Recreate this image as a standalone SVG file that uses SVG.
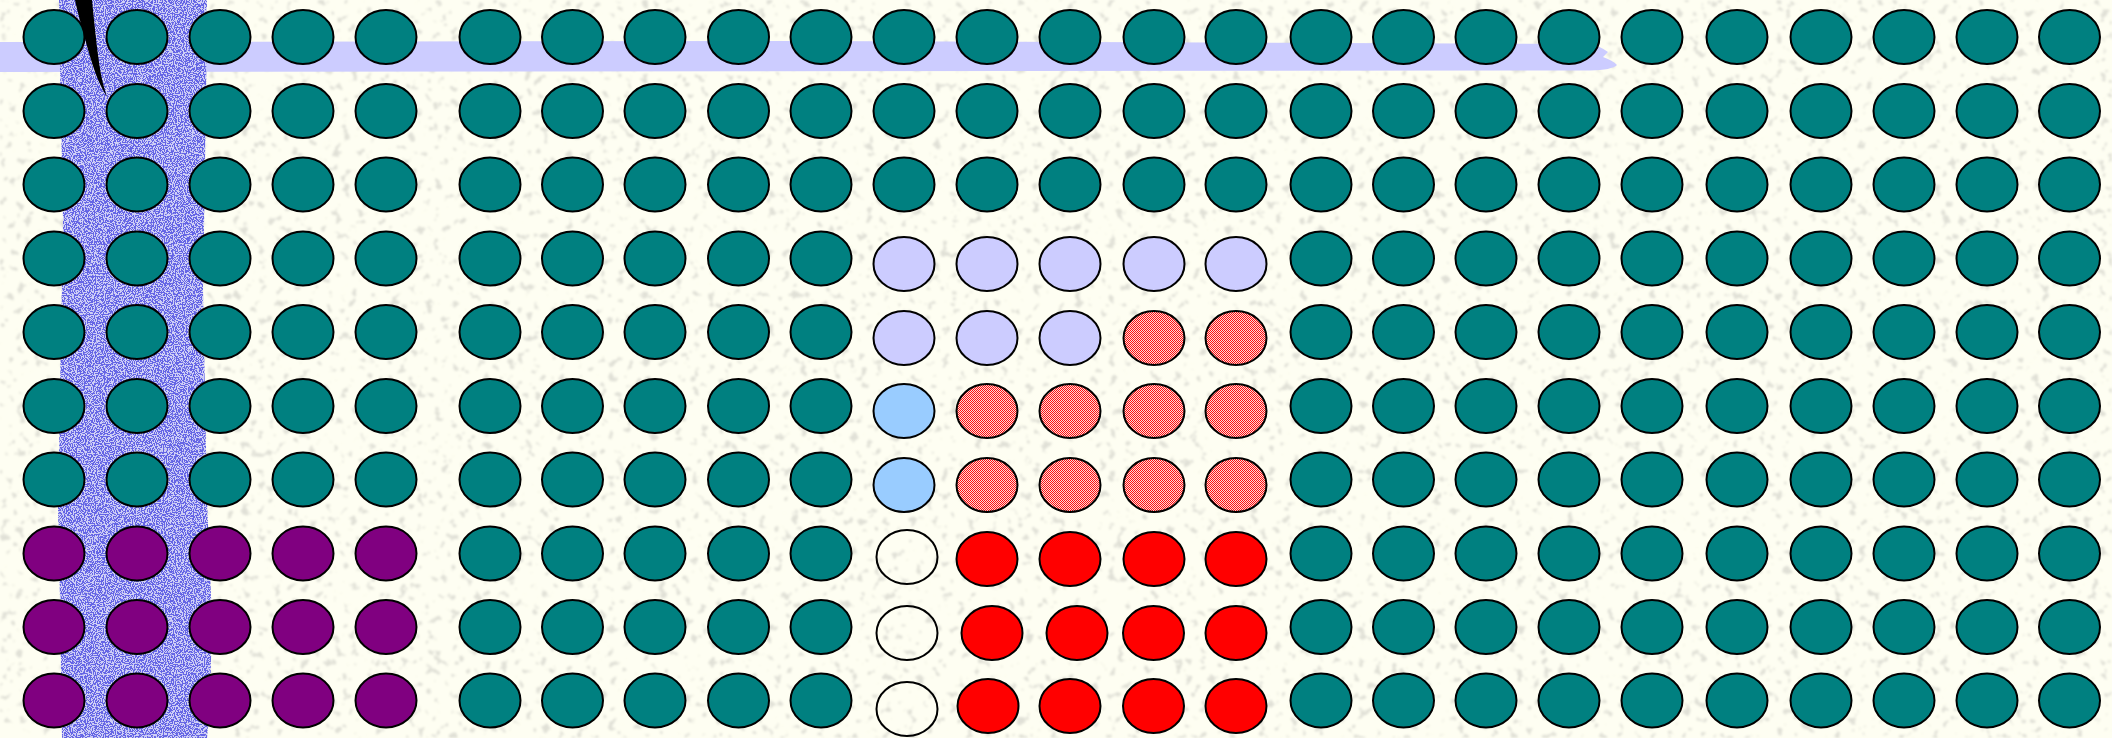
<svg xmlns="http://www.w3.org/2000/svg" width="2112" height="738" viewBox="0 0 2112 738">
<defs>
<style>
ellipse{stroke:#000;stroke-width:2}
.t{fill:#008080}.p{fill:#800080}.l{fill:#CCCCFF}.b{fill:#99CCFF}.h{fill:url(#hatch)}.r{fill:#FF0000}.w{fill:none}
</style>
<pattern id="hatch" width="2" height="2" patternUnits="userSpaceOnUse">
<rect width="2" height="2" fill="#FFD8D8"/>
<rect width="1" height="1" fill="#FF1010"/>
<rect x="1" y="1" width="1" height="1" fill="#FF1010"/>
</pattern>
<filter id="specks" x="0" y="0" width="100%" height="100%">
<feTurbulence type="fractalNoise" baseFrequency="0.12" numOctaves="2" seed="7" result="n"/>
<feColorMatrix in="n" type="matrix" values="0 0 0 0 0.5  0 0 0 0 0.5  0 0 0 0 0.47  10 0 0 0 -6.1" result="s"/>
<feComponentTransfer in="s" result="s2"><feFuncA type="linear" slope="0.5"/></feComponentTransfer>
<feGaussianBlur in="s2" stdDeviation="0.9" result="sb"/>
<feMerge><feMergeNode in="SourceGraphic"/><feMergeNode in="sb"/></feMerge>
</filter>
<filter id="bluenoise" x="0" y="0" width="100%" height="100%">
<feTurbulence type="fractalNoise" baseFrequency="0.9" numOctaves="1" seed="3" result="n"/>
<feColorMatrix in="n" type="matrix" values="0 0 0 0 0.13  0 0 0 0 0.13  0 0 0 0 0.78  24 0 0 0 -11.2" result="bn"/>
<feComposite in="bn" in2="SourceAlpha" operator="in" result="bc"/>
<feMerge><feMergeNode in="SourceGraphic"/><feMergeNode in="bc"/></feMerge>
</filter>
</defs>
<g id="background">
<rect width="2112" height="738" fill="#FEFEF2" filter="url(#specks)"/>
</g>
<g id="bands">
<path id="hband" d="M0,42 L800,41 L1590,44 Q1600,46 1608,52 L1603,57 Q1612,60 1617,65 Q1612,70 1590,70.5 L0,72 Z" fill="#CCCCFF"/>
<path id="vband" d="M59,0 L207,0 L206,100 L203,290 L207,500 L212,620 L210,700 L207,738 L62,738 L60,600 L58,510 L63,220 L60,70 Z" fill="#CFCFF6" filter="url(#bluenoise)"/>
<path id="quill" d="M75,0 L92,0 C94,20 96,40 98,55 C100,70 102,82 107,97 C101,87 97,78 93,66 C89,54 86,42 83,32 C80,20 77,10 75,0 Z" fill="#000"/>
</g>
<g id="nodes">
<g id="e-r1-c1"><ellipse class="t" cx="54" cy="37" rx="30.5" ry="27"/></g>
<g id="e-r1-c2"><ellipse class="t" cx="137" cy="37" rx="30.5" ry="27"/></g>
<g id="e-r1-c3"><ellipse class="t" cx="220" cy="37" rx="30.5" ry="27"/></g>
<g id="e-r1-c4"><ellipse class="t" cx="303" cy="37" rx="30.5" ry="27"/></g>
<g id="e-r1-c5"><ellipse class="t" cx="386" cy="37" rx="30.5" ry="27"/></g>
<g id="e-r1-c6"><ellipse class="t" cx="490" cy="37" rx="30.5" ry="27"/></g>
<g id="e-r1-c7"><ellipse class="t" cx="572.5" cy="37" rx="30.5" ry="27"/></g>
<g id="e-r1-c8"><ellipse class="t" cx="655" cy="37" rx="30.5" ry="27"/></g>
<g id="e-r1-c9"><ellipse class="t" cx="738.5" cy="37" rx="30.5" ry="27"/></g>
<g id="e-r1-c10"><ellipse class="t" cx="821" cy="37" rx="30.5" ry="27"/></g>
<g id="e-r1-c11"><ellipse class="t" cx="904" cy="37" rx="30.5" ry="27"/></g>
<g id="e-r1-c12"><ellipse class="t" cx="987" cy="37" rx="30.5" ry="27"/></g>
<g id="e-r1-c13"><ellipse class="t" cx="1070" cy="37" rx="30.5" ry="27"/></g>
<g id="e-r1-c14"><ellipse class="t" cx="1154" cy="37" rx="30.5" ry="27"/></g>
<g id="e-r1-c15"><ellipse class="t" cx="1236" cy="37" rx="30.5" ry="27"/></g>
<g id="e-r1-c16"><ellipse class="t" cx="1321" cy="37" rx="30.5" ry="27"/></g>
<g id="e-r1-c17"><ellipse class="t" cx="1403.5" cy="37" rx="30.5" ry="27"/></g>
<g id="e-r1-c18"><ellipse class="t" cx="1486" cy="37" rx="30.5" ry="27"/></g>
<g id="e-r1-c19"><ellipse class="t" cx="1569" cy="37" rx="30.5" ry="27"/></g>
<g id="e-r1-c20"><ellipse class="t" cx="1652" cy="37" rx="30.5" ry="27"/></g>
<g id="e-r1-c21"><ellipse class="t" cx="1737" cy="37" rx="30.5" ry="27"/></g>
<g id="e-r1-c22"><ellipse class="t" cx="1821" cy="37" rx="30.5" ry="27"/></g>
<g id="e-r1-c23"><ellipse class="t" cx="1904" cy="37" rx="30.5" ry="27"/></g>
<g id="e-r1-c24"><ellipse class="t" cx="1987" cy="37" rx="30.5" ry="27"/></g>
<g id="e-r1-c25"><ellipse class="t" cx="2069.5" cy="37" rx="30.5" ry="27"/></g>

<g id="e-r2-c1"><ellipse class="t" cx="54" cy="111" rx="30.5" ry="27"/></g>
<g id="e-r2-c2"><ellipse class="t" cx="137" cy="111" rx="30.5" ry="27"/></g>
<g id="e-r2-c3"><ellipse class="t" cx="220" cy="111" rx="30.5" ry="27"/></g>
<g id="e-r2-c4"><ellipse class="t" cx="303" cy="111" rx="30.5" ry="27"/></g>
<g id="e-r2-c5"><ellipse class="t" cx="386" cy="111" rx="30.5" ry="27"/></g>
<g id="e-r2-c6"><ellipse class="t" cx="490" cy="111" rx="30.5" ry="27"/></g>
<g id="e-r2-c7"><ellipse class="t" cx="572.5" cy="111" rx="30.5" ry="27"/></g>
<g id="e-r2-c8"><ellipse class="t" cx="655" cy="111" rx="30.5" ry="27"/></g>
<g id="e-r2-c9"><ellipse class="t" cx="738.5" cy="111" rx="30.5" ry="27"/></g>
<g id="e-r2-c10"><ellipse class="t" cx="821" cy="111" rx="30.5" ry="27"/></g>
<g id="e-r2-c11"><ellipse class="t" cx="904" cy="111" rx="30.5" ry="27"/></g>
<g id="e-r2-c12"><ellipse class="t" cx="987" cy="111" rx="30.5" ry="27"/></g>
<g id="e-r2-c13"><ellipse class="t" cx="1070" cy="111" rx="30.5" ry="27"/></g>
<g id="e-r2-c14"><ellipse class="t" cx="1154" cy="111" rx="30.5" ry="27"/></g>
<g id="e-r2-c15"><ellipse class="t" cx="1236" cy="111" rx="30.5" ry="27"/></g>
<g id="e-r2-c16"><ellipse class="t" cx="1321" cy="111" rx="30.5" ry="27"/></g>
<g id="e-r2-c17"><ellipse class="t" cx="1403.5" cy="111" rx="30.5" ry="27"/></g>
<g id="e-r2-c18"><ellipse class="t" cx="1486" cy="111" rx="30.5" ry="27"/></g>
<g id="e-r2-c19"><ellipse class="t" cx="1569" cy="111" rx="30.5" ry="27"/></g>
<g id="e-r2-c20"><ellipse class="t" cx="1652" cy="111" rx="30.5" ry="27"/></g>
<g id="e-r2-c21"><ellipse class="t" cx="1737" cy="111" rx="30.5" ry="27"/></g>
<g id="e-r2-c22"><ellipse class="t" cx="1821" cy="111" rx="30.5" ry="27"/></g>
<g id="e-r2-c23"><ellipse class="t" cx="1904" cy="111" rx="30.5" ry="27"/></g>
<g id="e-r2-c24"><ellipse class="t" cx="1987" cy="111" rx="30.5" ry="27"/></g>
<g id="e-r2-c25"><ellipse class="t" cx="2069.5" cy="111" rx="30.5" ry="27"/></g>

<g id="e-r3-c1"><ellipse class="t" cx="54" cy="184.5" rx="30.5" ry="27"/></g>
<g id="e-r3-c2"><ellipse class="t" cx="137" cy="184.5" rx="30.5" ry="27"/></g>
<g id="e-r3-c3"><ellipse class="t" cx="220" cy="184.5" rx="30.5" ry="27"/></g>
<g id="e-r3-c4"><ellipse class="t" cx="303" cy="184.5" rx="30.5" ry="27"/></g>
<g id="e-r3-c5"><ellipse class="t" cx="386" cy="184.5" rx="30.5" ry="27"/></g>
<g id="e-r3-c6"><ellipse class="t" cx="490" cy="184.5" rx="30.5" ry="27"/></g>
<g id="e-r3-c7"><ellipse class="t" cx="572.5" cy="184.5" rx="30.5" ry="27"/></g>
<g id="e-r3-c8"><ellipse class="t" cx="655" cy="184.5" rx="30.5" ry="27"/></g>
<g id="e-r3-c9"><ellipse class="t" cx="738.5" cy="184.5" rx="30.5" ry="27"/></g>
<g id="e-r3-c10"><ellipse class="t" cx="821" cy="184.5" rx="30.5" ry="27"/></g>
<g id="e-r3-c11"><ellipse class="t" cx="904" cy="184.5" rx="30.5" ry="27"/></g>
<g id="e-r3-c12"><ellipse class="t" cx="987" cy="184.5" rx="30.5" ry="27"/></g>
<g id="e-r3-c13"><ellipse class="t" cx="1070" cy="184.5" rx="30.5" ry="27"/></g>
<g id="e-r3-c14"><ellipse class="t" cx="1154" cy="184.5" rx="30.5" ry="27"/></g>
<g id="e-r3-c15"><ellipse class="t" cx="1236" cy="184.5" rx="30.5" ry="27"/></g>
<g id="e-r3-c16"><ellipse class="t" cx="1321" cy="184.5" rx="30.5" ry="27"/></g>
<g id="e-r3-c17"><ellipse class="t" cx="1403.5" cy="184.5" rx="30.5" ry="27"/></g>
<g id="e-r3-c18"><ellipse class="t" cx="1486" cy="184.5" rx="30.5" ry="27"/></g>
<g id="e-r3-c19"><ellipse class="t" cx="1569" cy="184.5" rx="30.5" ry="27"/></g>
<g id="e-r3-c20"><ellipse class="t" cx="1652" cy="184.5" rx="30.5" ry="27"/></g>
<g id="e-r3-c21"><ellipse class="t" cx="1737" cy="184.5" rx="30.5" ry="27"/></g>
<g id="e-r3-c22"><ellipse class="t" cx="1821" cy="184.5" rx="30.5" ry="27"/></g>
<g id="e-r3-c23"><ellipse class="t" cx="1904" cy="184.5" rx="30.5" ry="27"/></g>
<g id="e-r3-c24"><ellipse class="t" cx="1987" cy="184.5" rx="30.5" ry="27"/></g>
<g id="e-r3-c25"><ellipse class="t" cx="2069.5" cy="184.5" rx="30.5" ry="27"/></g>

<g id="e-r4-c1"><ellipse class="t" cx="54" cy="258.5" rx="30.5" ry="27"/></g>
<g id="e-r4-c2"><ellipse class="t" cx="137" cy="258.5" rx="30.5" ry="27"/></g>
<g id="e-r4-c3"><ellipse class="t" cx="220" cy="258.5" rx="30.5" ry="27"/></g>
<g id="e-r4-c4"><ellipse class="t" cx="303" cy="258.5" rx="30.5" ry="27"/></g>
<g id="e-r4-c5"><ellipse class="t" cx="386" cy="258.5" rx="30.5" ry="27"/></g>
<g id="e-r4-c6"><ellipse class="t" cx="490" cy="258.5" rx="30.5" ry="27"/></g>
<g id="e-r4-c7"><ellipse class="t" cx="572.5" cy="258.5" rx="30.5" ry="27"/></g>
<g id="e-r4-c8"><ellipse class="t" cx="655" cy="258.5" rx="30.5" ry="27"/></g>
<g id="e-r4-c9"><ellipse class="t" cx="738.5" cy="258.5" rx="30.5" ry="27"/></g>
<g id="e-r4-c10"><ellipse class="t" cx="821" cy="258.5" rx="30.5" ry="27"/></g>
<g id="e-r4-c11"><ellipse class="l" cx="904" cy="264" rx="30.5" ry="27"/></g>
<g id="e-r4-c12"><ellipse class="l" cx="987" cy="264" rx="30.5" ry="27"/></g>
<g id="e-r4-c13"><ellipse class="l" cx="1070" cy="264" rx="30.5" ry="27"/></g>
<g id="e-r4-c14"><ellipse class="l" cx="1154" cy="264" rx="30.5" ry="27"/></g>
<g id="e-r4-c15"><ellipse class="l" cx="1236" cy="264" rx="30.5" ry="27"/></g>
<g id="e-r4-c16"><ellipse class="t" cx="1321" cy="258.5" rx="30.5" ry="27"/></g>
<g id="e-r4-c17"><ellipse class="t" cx="1403.5" cy="258.5" rx="30.5" ry="27"/></g>
<g id="e-r4-c18"><ellipse class="t" cx="1486" cy="258.5" rx="30.5" ry="27"/></g>
<g id="e-r4-c19"><ellipse class="t" cx="1569" cy="258.5" rx="30.5" ry="27"/></g>
<g id="e-r4-c20"><ellipse class="t" cx="1652" cy="258.5" rx="30.5" ry="27"/></g>
<g id="e-r4-c21"><ellipse class="t" cx="1737" cy="258.5" rx="30.5" ry="27"/></g>
<g id="e-r4-c22"><ellipse class="t" cx="1821" cy="258.5" rx="30.5" ry="27"/></g>
<g id="e-r4-c23"><ellipse class="t" cx="1904" cy="258.5" rx="30.5" ry="27"/></g>
<g id="e-r4-c24"><ellipse class="t" cx="1987" cy="258.5" rx="30.5" ry="27"/></g>
<g id="e-r4-c25"><ellipse class="t" cx="2069.5" cy="258.5" rx="30.5" ry="27"/></g>

<g id="e-r5-c1"><ellipse class="t" cx="54" cy="332" rx="30.5" ry="27"/></g>
<g id="e-r5-c2"><ellipse class="t" cx="137" cy="332" rx="30.5" ry="27"/></g>
<g id="e-r5-c3"><ellipse class="t" cx="220" cy="332" rx="30.5" ry="27"/></g>
<g id="e-r5-c4"><ellipse class="t" cx="303" cy="332" rx="30.5" ry="27"/></g>
<g id="e-r5-c5"><ellipse class="t" cx="386" cy="332" rx="30.5" ry="27"/></g>
<g id="e-r5-c6"><ellipse class="t" cx="490" cy="332" rx="30.5" ry="27"/></g>
<g id="e-r5-c7"><ellipse class="t" cx="572.5" cy="332" rx="30.5" ry="27"/></g>
<g id="e-r5-c8"><ellipse class="t" cx="655" cy="332" rx="30.5" ry="27"/></g>
<g id="e-r5-c9"><ellipse class="t" cx="738.5" cy="332" rx="30.5" ry="27"/></g>
<g id="e-r5-c10"><ellipse class="t" cx="821" cy="332" rx="30.5" ry="27"/></g>
<g id="e-r5-c11"><ellipse class="l" cx="904" cy="338" rx="30.5" ry="27"/></g>
<g id="e-r5-c12"><ellipse class="l" cx="987" cy="338" rx="30.5" ry="27"/></g>
<g id="e-r5-c13"><ellipse class="l" cx="1070" cy="338" rx="30.5" ry="27"/></g>
<g id="e-r5-c14"><ellipse class="h" cx="1154" cy="338" rx="30.5" ry="27"/></g>
<g id="e-r5-c15"><ellipse class="h" cx="1236" cy="338" rx="30.5" ry="27"/></g>
<g id="e-r5-c16"><ellipse class="t" cx="1321" cy="332" rx="30.5" ry="27"/></g>
<g id="e-r5-c17"><ellipse class="t" cx="1403.5" cy="332" rx="30.5" ry="27"/></g>
<g id="e-r5-c18"><ellipse class="t" cx="1486" cy="332" rx="30.5" ry="27"/></g>
<g id="e-r5-c19"><ellipse class="t" cx="1569" cy="332" rx="30.5" ry="27"/></g>
<g id="e-r5-c20"><ellipse class="t" cx="1652" cy="332" rx="30.5" ry="27"/></g>
<g id="e-r5-c21"><ellipse class="t" cx="1737" cy="332" rx="30.5" ry="27"/></g>
<g id="e-r5-c22"><ellipse class="t" cx="1821" cy="332" rx="30.5" ry="27"/></g>
<g id="e-r5-c23"><ellipse class="t" cx="1904" cy="332" rx="30.5" ry="27"/></g>
<g id="e-r5-c24"><ellipse class="t" cx="1987" cy="332" rx="30.5" ry="27"/></g>
<g id="e-r5-c25"><ellipse class="t" cx="2069.5" cy="332" rx="30.5" ry="27"/></g>

<g id="e-r6-c1"><ellipse class="t" cx="54" cy="406" rx="30.5" ry="27"/></g>
<g id="e-r6-c2"><ellipse class="t" cx="137" cy="406" rx="30.5" ry="27"/></g>
<g id="e-r6-c3"><ellipse class="t" cx="220" cy="406" rx="30.5" ry="27"/></g>
<g id="e-r6-c4"><ellipse class="t" cx="303" cy="406" rx="30.5" ry="27"/></g>
<g id="e-r6-c5"><ellipse class="t" cx="386" cy="406" rx="30.5" ry="27"/></g>
<g id="e-r6-c6"><ellipse class="t" cx="490" cy="406" rx="30.5" ry="27"/></g>
<g id="e-r6-c7"><ellipse class="t" cx="572.5" cy="406" rx="30.5" ry="27"/></g>
<g id="e-r6-c8"><ellipse class="t" cx="655" cy="406" rx="30.5" ry="27"/></g>
<g id="e-r6-c9"><ellipse class="t" cx="738.5" cy="406" rx="30.5" ry="27"/></g>
<g id="e-r6-c10"><ellipse class="t" cx="821" cy="406" rx="30.5" ry="27"/></g>
<g id="e-r6-c11"><ellipse class="b" cx="904" cy="411" rx="30.5" ry="27"/></g>
<g id="e-r6-c12"><ellipse class="h" cx="987" cy="411" rx="30.5" ry="27"/></g>
<g id="e-r6-c13"><ellipse class="h" cx="1070" cy="411" rx="30.5" ry="27"/></g>
<g id="e-r6-c14"><ellipse class="h" cx="1154" cy="411" rx="30.5" ry="27"/></g>
<g id="e-r6-c15"><ellipse class="h" cx="1236" cy="411" rx="30.5" ry="27"/></g>
<g id="e-r6-c16"><ellipse class="t" cx="1321" cy="406" rx="30.5" ry="27"/></g>
<g id="e-r6-c17"><ellipse class="t" cx="1403.5" cy="406" rx="30.5" ry="27"/></g>
<g id="e-r6-c18"><ellipse class="t" cx="1486" cy="406" rx="30.5" ry="27"/></g>
<g id="e-r6-c19"><ellipse class="t" cx="1569" cy="406" rx="30.5" ry="27"/></g>
<g id="e-r6-c20"><ellipse class="t" cx="1652" cy="406" rx="30.5" ry="27"/></g>
<g id="e-r6-c21"><ellipse class="t" cx="1737" cy="406" rx="30.5" ry="27"/></g>
<g id="e-r6-c22"><ellipse class="t" cx="1821" cy="406" rx="30.5" ry="27"/></g>
<g id="e-r6-c23"><ellipse class="t" cx="1904" cy="406" rx="30.5" ry="27"/></g>
<g id="e-r6-c24"><ellipse class="t" cx="1987" cy="406" rx="30.5" ry="27"/></g>
<g id="e-r6-c25"><ellipse class="t" cx="2069.5" cy="406" rx="30.5" ry="27"/></g>

<g id="e-r7-c1"><ellipse class="t" cx="54" cy="479.5" rx="30.5" ry="27"/></g>
<g id="e-r7-c2"><ellipse class="t" cx="137" cy="479.5" rx="30.5" ry="27"/></g>
<g id="e-r7-c3"><ellipse class="t" cx="220" cy="479.5" rx="30.5" ry="27"/></g>
<g id="e-r7-c4"><ellipse class="t" cx="303" cy="479.5" rx="30.5" ry="27"/></g>
<g id="e-r7-c5"><ellipse class="t" cx="386" cy="479.5" rx="30.5" ry="27"/></g>
<g id="e-r7-c6"><ellipse class="t" cx="490" cy="479.5" rx="30.5" ry="27"/></g>
<g id="e-r7-c7"><ellipse class="t" cx="572.5" cy="479.5" rx="30.5" ry="27"/></g>
<g id="e-r7-c8"><ellipse class="t" cx="655" cy="479.5" rx="30.5" ry="27"/></g>
<g id="e-r7-c9"><ellipse class="t" cx="738.5" cy="479.5" rx="30.5" ry="27"/></g>
<g id="e-r7-c10"><ellipse class="t" cx="821" cy="479.5" rx="30.5" ry="27"/></g>
<g id="e-r7-c11"><ellipse class="b" cx="904" cy="485" rx="30.5" ry="27"/></g>
<g id="e-r7-c12"><ellipse class="h" cx="987" cy="485" rx="30.5" ry="27"/></g>
<g id="e-r7-c13"><ellipse class="h" cx="1070" cy="485" rx="30.5" ry="27"/></g>
<g id="e-r7-c14"><ellipse class="h" cx="1154" cy="485" rx="30.5" ry="27"/></g>
<g id="e-r7-c15"><ellipse class="h" cx="1236" cy="485" rx="30.5" ry="27"/></g>
<g id="e-r7-c16"><ellipse class="t" cx="1321" cy="479.5" rx="30.5" ry="27"/></g>
<g id="e-r7-c17"><ellipse class="t" cx="1403.5" cy="479.5" rx="30.5" ry="27"/></g>
<g id="e-r7-c18"><ellipse class="t" cx="1486" cy="479.5" rx="30.5" ry="27"/></g>
<g id="e-r7-c19"><ellipse class="t" cx="1569" cy="479.5" rx="30.5" ry="27"/></g>
<g id="e-r7-c20"><ellipse class="t" cx="1652" cy="479.5" rx="30.5" ry="27"/></g>
<g id="e-r7-c21"><ellipse class="t" cx="1737" cy="479.5" rx="30.5" ry="27"/></g>
<g id="e-r7-c22"><ellipse class="t" cx="1821" cy="479.5" rx="30.5" ry="27"/></g>
<g id="e-r7-c23"><ellipse class="t" cx="1904" cy="479.5" rx="30.5" ry="27"/></g>
<g id="e-r7-c24"><ellipse class="t" cx="1987" cy="479.5" rx="30.5" ry="27"/></g>
<g id="e-r7-c25"><ellipse class="t" cx="2069.5" cy="479.5" rx="30.5" ry="27"/></g>

<g id="e-r8-c1"><ellipse class="p" cx="54" cy="553.5" rx="30.5" ry="27"/></g>
<g id="e-r8-c2"><ellipse class="p" cx="137" cy="553.5" rx="30.5" ry="27"/></g>
<g id="e-r8-c3"><ellipse class="p" cx="220" cy="553.5" rx="30.5" ry="27"/></g>
<g id="e-r8-c4"><ellipse class="p" cx="303" cy="553.5" rx="30.5" ry="27"/></g>
<g id="e-r8-c5"><ellipse class="p" cx="386" cy="553.5" rx="30.5" ry="27"/></g>
<g id="e-r8-c6"><ellipse class="t" cx="490" cy="553.5" rx="30.5" ry="27"/></g>
<g id="e-r8-c7"><ellipse class="t" cx="572.5" cy="553.5" rx="30.5" ry="27"/></g>
<g id="e-r8-c8"><ellipse class="t" cx="655" cy="553.5" rx="30.5" ry="27"/></g>
<g id="e-r8-c9"><ellipse class="t" cx="738.5" cy="553.5" rx="30.5" ry="27"/></g>
<g id="e-r8-c10"><ellipse class="t" cx="821" cy="553.5" rx="30.5" ry="27"/></g>
<g id="e-r8-c11"><ellipse class="w" cx="907" cy="557" rx="30.5" ry="27"/></g>
<g id="e-r8-c12"><ellipse class="r" cx="987" cy="559" rx="30.5" ry="27"/></g>
<g id="e-r8-c13"><ellipse class="r" cx="1070" cy="559" rx="30.5" ry="27"/></g>
<g id="e-r8-c14"><ellipse class="r" cx="1154" cy="559" rx="30.5" ry="27"/></g>
<g id="e-r8-c15"><ellipse class="r" cx="1236" cy="559" rx="30.5" ry="27"/></g>
<g id="e-r8-c16"><ellipse class="t" cx="1321" cy="553.5" rx="30.5" ry="27"/></g>
<g id="e-r8-c17"><ellipse class="t" cx="1403.5" cy="553.5" rx="30.5" ry="27"/></g>
<g id="e-r8-c18"><ellipse class="t" cx="1486" cy="553.5" rx="30.5" ry="27"/></g>
<g id="e-r8-c19"><ellipse class="t" cx="1569" cy="553.5" rx="30.5" ry="27"/></g>
<g id="e-r8-c20"><ellipse class="t" cx="1652" cy="553.5" rx="30.5" ry="27"/></g>
<g id="e-r8-c21"><ellipse class="t" cx="1737" cy="553.5" rx="30.5" ry="27"/></g>
<g id="e-r8-c22"><ellipse class="t" cx="1821" cy="553.5" rx="30.5" ry="27"/></g>
<g id="e-r8-c23"><ellipse class="t" cx="1904" cy="553.5" rx="30.5" ry="27"/></g>
<g id="e-r8-c24"><ellipse class="t" cx="1987" cy="553.5" rx="30.5" ry="27"/></g>
<g id="e-r8-c25"><ellipse class="t" cx="2069.5" cy="553.5" rx="30.5" ry="27"/></g>

<g id="e-r9-c1"><ellipse class="p" cx="54" cy="627" rx="30.5" ry="27"/></g>
<g id="e-r9-c2"><ellipse class="p" cx="137" cy="627" rx="30.5" ry="27"/></g>
<g id="e-r9-c3"><ellipse class="p" cx="220" cy="627" rx="30.5" ry="27"/></g>
<g id="e-r9-c4"><ellipse class="p" cx="303" cy="627" rx="30.5" ry="27"/></g>
<g id="e-r9-c5"><ellipse class="p" cx="386" cy="627" rx="30.5" ry="27"/></g>
<g id="e-r9-c6"><ellipse class="t" cx="490" cy="627" rx="30.5" ry="27"/></g>
<g id="e-r9-c7"><ellipse class="t" cx="572.5" cy="627" rx="30.5" ry="27"/></g>
<g id="e-r9-c8"><ellipse class="t" cx="655" cy="627" rx="30.5" ry="27"/></g>
<g id="e-r9-c9"><ellipse class="t" cx="738.5" cy="627" rx="30.5" ry="27"/></g>
<g id="e-r9-c10"><ellipse class="t" cx="821" cy="627" rx="30.5" ry="27"/></g>
<g id="e-r9-c11"><ellipse class="w" cx="907" cy="633" rx="30.5" ry="27"/></g>
<g id="e-r9-c12"><ellipse class="r" cx="992" cy="633" rx="30.5" ry="27"/></g>
<g id="e-r9-c13"><ellipse class="r" cx="1077" cy="633" rx="30.5" ry="27"/></g>
<g id="e-r9-c14"><ellipse class="r" cx="1153.5" cy="633" rx="30.5" ry="27"/></g>
<g id="e-r9-c15"><ellipse class="r" cx="1236" cy="633" rx="30.5" ry="27"/></g>
<g id="e-r9-c16"><ellipse class="t" cx="1321" cy="627" rx="30.5" ry="27"/></g>
<g id="e-r9-c17"><ellipse class="t" cx="1403.5" cy="627" rx="30.5" ry="27"/></g>
<g id="e-r9-c18"><ellipse class="t" cx="1486" cy="627" rx="30.5" ry="27"/></g>
<g id="e-r9-c19"><ellipse class="t" cx="1569" cy="627" rx="30.5" ry="27"/></g>
<g id="e-r9-c20"><ellipse class="t" cx="1652" cy="627" rx="30.5" ry="27"/></g>
<g id="e-r9-c21"><ellipse class="t" cx="1737" cy="627" rx="30.5" ry="27"/></g>
<g id="e-r9-c22"><ellipse class="t" cx="1821" cy="627" rx="30.5" ry="27"/></g>
<g id="e-r9-c23"><ellipse class="t" cx="1904" cy="627" rx="30.5" ry="27"/></g>
<g id="e-r9-c24"><ellipse class="t" cx="1987" cy="627" rx="30.5" ry="27"/></g>
<g id="e-r9-c25"><ellipse class="t" cx="2069.5" cy="627" rx="30.5" ry="27"/></g>

<g id="e-r10-c1"><ellipse class="p" cx="54" cy="700.5" rx="30.5" ry="27"/></g>
<g id="e-r10-c2"><ellipse class="p" cx="137" cy="700.5" rx="30.5" ry="27"/></g>
<g id="e-r10-c3"><ellipse class="p" cx="220" cy="700.5" rx="30.5" ry="27"/></g>
<g id="e-r10-c4"><ellipse class="p" cx="303" cy="700.5" rx="30.5" ry="27"/></g>
<g id="e-r10-c5"><ellipse class="p" cx="386" cy="700.5" rx="30.5" ry="27"/></g>
<g id="e-r10-c6"><ellipse class="t" cx="490" cy="700.5" rx="30.5" ry="27"/></g>
<g id="e-r10-c7"><ellipse class="t" cx="572.5" cy="700.5" rx="30.5" ry="27"/></g>
<g id="e-r10-c8"><ellipse class="t" cx="655" cy="700.5" rx="30.5" ry="27"/></g>
<g id="e-r10-c9"><ellipse class="t" cx="738.5" cy="700.5" rx="30.5" ry="27"/></g>
<g id="e-r10-c10"><ellipse class="t" cx="821" cy="700.5" rx="30.5" ry="27"/></g>
<g id="e-r10-c11"><ellipse class="w" cx="907" cy="709" rx="30.5" ry="27"/></g>
<g id="e-r10-c12"><ellipse class="r" cx="988" cy="706" rx="30.5" ry="27"/></g>
<g id="e-r10-c13"><ellipse class="r" cx="1070" cy="706" rx="30.5" ry="27"/></g>
<g id="e-r10-c14"><ellipse class="r" cx="1153.5" cy="706" rx="30.5" ry="27"/></g>
<g id="e-r10-c15"><ellipse class="r" cx="1236" cy="706" rx="30.5" ry="27"/></g>
<g id="e-r10-c16"><ellipse class="t" cx="1321" cy="700.5" rx="30.5" ry="27"/></g>
<g id="e-r10-c17"><ellipse class="t" cx="1403.5" cy="700.5" rx="30.5" ry="27"/></g>
<g id="e-r10-c18"><ellipse class="t" cx="1486" cy="700.5" rx="30.5" ry="27"/></g>
<g id="e-r10-c19"><ellipse class="t" cx="1569" cy="700.5" rx="30.5" ry="27"/></g>
<g id="e-r10-c20"><ellipse class="t" cx="1652" cy="700.5" rx="30.5" ry="27"/></g>
<g id="e-r10-c21"><ellipse class="t" cx="1737" cy="700.5" rx="30.5" ry="27"/></g>
<g id="e-r10-c22"><ellipse class="t" cx="1821" cy="700.5" rx="30.5" ry="27"/></g>
<g id="e-r10-c23"><ellipse class="t" cx="1904" cy="700.5" rx="30.5" ry="27"/></g>
<g id="e-r10-c24"><ellipse class="t" cx="1987" cy="700.5" rx="30.5" ry="27"/></g>
<g id="e-r10-c25"><ellipse class="t" cx="2069.5" cy="700.5" rx="30.5" ry="27"/></g>
</g>
<g id="connectors"/>
</svg>
